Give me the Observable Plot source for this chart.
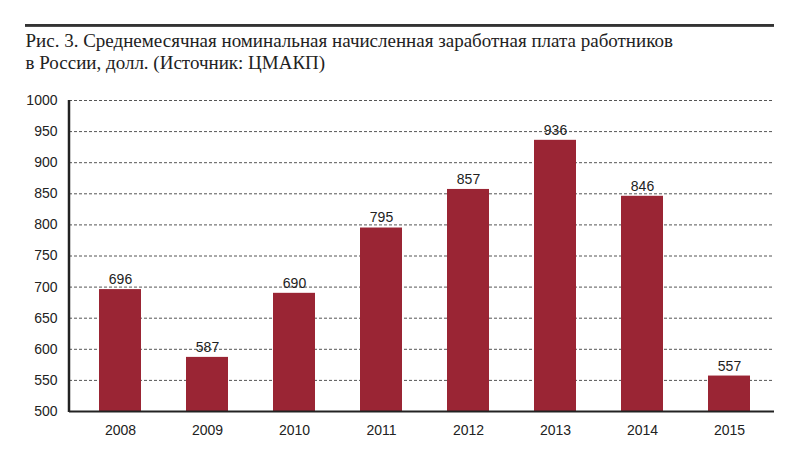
<!DOCTYPE html>
<html><head><meta charset="utf-8">
<script src="https://cdn.jsdelivr.net/npm/d3@7"></script>
<script src="https://cdn.jsdelivr.net/npm/@observablehq/plot@0.6"></script>
</head><body style="margin:0;background:#fff;">
<div id="chart"></div>
<script>
const title = "Рис. 3. Среднемесячная номинальная начисленная заработная плата работников\nв России, долл. (Источник: ЦМАКП)";
const years = ["2008","2009","2010","2011","2012","2013","2014","2015"];
const values = [696, 587, 690, 795, 857, 936, 846, 557];
const yTicks = [500,550,600,650,700,750,800,850,900,950,1000];
const data = years.map((y,i)=>({year:y, value:values[i]}));
const ml = 69, mt = 100;
const plot = Plot.plot({
  width: 800, height: 460,
  marginTop: mt, marginBottom: 49, marginLeft: ml, marginRight: 26,
  style: {fontFamily: "'Liberation Sans', Arial, sans-serif", fontSize: "14px", color: "#222", background: "#fff", overflow: "visible"},
  x: {domain: years, paddingInner: 0.52, paddingOuter: 0.26, insetLeft: 6, label: null},
  y: {domain: [500, 1000], label: null},
  marks: [
    Plot.ruleY(yTicks.slice(1), {stroke: "#555", strokeDasharray: "3,2", strokeWidth: 1}),
    Plot.barY(data, {x: "year", y1: 500, y2: "value", fill: "#9a2534"}),
    Plot.text(data, {x: "year", y: "value", text: d => String(d.value), dy: -10, fontSize: 14, fill: "#222"}),
    Plot.ruleY([500], {stroke: "#222", strokeWidth: 2}),
    Plot.ruleY([1000], {dy: -75, insetLeft: 25 - ml, stroke: "#333", strokeWidth: 2.5}),
    Plot.axisY({ticks: yTicks, tickFormat: d => String(d), tickSize: 0, tickPadding: 12, fontSize: 14}),
    Plot.axisX({tickSize: 0, tickPadding: 14, fontSize: 14}),
    Plot.text([title], {text: d => d, frameAnchor: "top-left", textAnchor: "start", lineAnchor: "top",
      lineHeight: 1.16, dx: 25 - ml, dy: 31 - mt, fontSize: 19, fill: "#222",
      fontFamily: "Liberation Serif, Times New Roman, serif"})
  ]
});
const y = plot.scale("y");
const svg = d3.select(plot.tagName.toLowerCase() === "svg" ? plot : plot.querySelector("svg"));
svg.append("line")
  .attr("x1", ml).attr("x2", ml)
  .attr("y1", y.apply(1000)).attr("y2", y.apply(500) + 1)
  .attr("stroke", "#222").attr("stroke-width", 2.5);
svg.append("rect")
  .attr("x", 25).attr("width", 800 - 26 - 25)
  .attr("y", 24).attr("height", 2.5)
  .attr("fill", "#333");
document.getElementById("chart").appendChild(plot);
</script>
</body></html>
